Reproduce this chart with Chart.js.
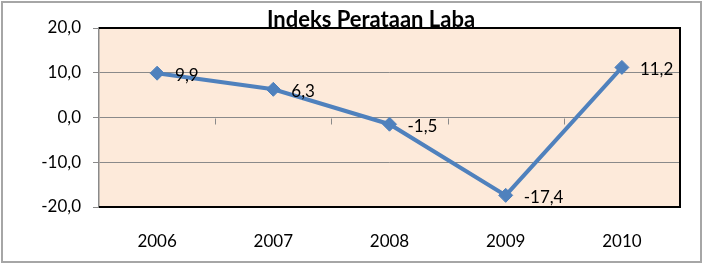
<!DOCTYPE html>
<html>
<head>
<meta charset="utf-8">
<script src="https://cdn.jsdelivr.net/npm/chart.js@4/dist/chart.umd.min.js"></script>
<style>
    html, body { margin: 0; padding: 0; background: #fff; }
    #wrap { position: absolute; left: 0; top: 0; width: 707px; height: 272px; }
</style>
</head>
<body>
<div id="wrap"><canvas id="chart" width="707" height="272"></canvas></div>
<script>
// chart data
const title = 'Indeks Perataan Laba';
const years = ['2006', '2007', '2008', '2009', '2010'];
const indeks = [9.9, 6.3, -1.5, -17.4, 11.2];
const yTicks = [20, 10, 0, -10, -20];

const FONT = 'Lato, Carlito, Calibri, sans-serif';
const fmt = v => v.toFixed(1).replace('.', ',');

// outer frame, plot border, zero-line tick marks, title and value labels
const decor = {
    id: 'decor',
    beforeDraw(chart) {
        const { ctx, chartArea: a } = chart;
        ctx.save();
        ctx.fillStyle = '#fff';
        ctx.fillRect(0, 0, chart.width, chart.height);
        ctx.fillStyle = '#FDEADA';
        ctx.fillRect(a.left, a.top, a.right - a.left, a.bottom - a.top);
        ctx.restore();
    },
    afterDatasetsDraw(chart) {
        const { ctx, scales } = chart;
        const x = scales.x, y = scales.y;
        ctx.save();
        // little tick marks on the zero line between categories
        const y0 = Math.round(y.getPixelForValue(0)) + 0.5;
        ctx.strokeStyle = '#8a8a8a';
        ctx.lineWidth = 1;
        for (let i = 1; i < years.length; i++) {
            const xb = Math.round((x.getPixelForValue(i - 1) + x.getPixelForValue(i)) / 2) + 0.5;
            ctx.beginPath();
            ctx.moveTo(xb, y0);
            ctx.lineTo(xb, y0 + 6);
            ctx.stroke();
        }
        ctx.restore();
    },
    afterDraw(chart) {
        const { ctx, chartArea: a } = chart;
        const meta = chart.getDatasetMeta(0);
        ctx.save();
        // plot border: black top/right/bottom
        const top = Math.round(a.top), right = Math.round(a.right), bottom = Math.round(a.bottom), left = Math.round(a.left);
        ctx.fillStyle = '#000';
        ctx.fillRect(left, top - 1, right - left + 1, 2);
        ctx.fillRect(right - 1, top - 1, 2, bottom - top + 2);
        ctx.fillRect(left, bottom - 1, right - left + 1, 2);

        ctx.font = '17px ' + FONT;
        ctx.textAlign = 'left';
        ctx.textBaseline = 'middle';
        meta.data.forEach((pt, i) => {
            ctx.fillText(fmt(indeks[i]), pt.x + 18, pt.y + 2);
        });
        // title
        ctx.font = 'bold 22px ' + FONT;
        ctx.textAlign = 'center';
        ctx.textBaseline = 'alphabetic';
        ctx.fillText(title, 371, 27);
        // outer frame
        ctx.strokeStyle = '#a6a6a6';
        ctx.lineWidth = 2;
        ctx.strokeRect(2, 2, 699, 260);
        ctx.restore();
    }
};

new Chart(document.getElementById('chart'), {
    type: 'line',
    data: {
        labels: years,
        datasets: [{
            data: indeks,
            borderColor: '#4F81BD',
            backgroundColor: '#4F81BD',
            borderWidth: 4,
            pointStyle: 'rectRot',
            pointRadius: 7,
            pointHoverRadius: 7,
            pointBorderWidth: 1,
            tension: 0,
            fill: false
        }]
    },
    options: {
        responsive: false,
        animation: false,
        layout: { padding: { top: 28, right: 27, left: 0, bottom: 0 } },
        plugins: { legend: { display: false }, tooltip: { enabled: false }, title: { display: false } },
        scales: {
            x: {
                offset: true,
                grid: { display: false, offset: true },
                border: { display: false },
                ticks: { color: '#000', padding: 16, font: { family: FONT, size: 17 }, maxRotation: 0 },
                afterFit(scale) { scale.height = 65; }
            },
            y: {
                min: -20,
                max: 20,
                afterBuildTicks(scale) { scale.ticks = yTicks.map(v => ({ value: v })); },
                grid: { color: '#8a8a8a', lineWidth: 1, tickLength: 6, drawTicks: true },
                border: { display: true, color: '#8a8a8a', width: 1.5 },
                ticks: { color: '#000', padding: 12, font: { family: FONT, size: 17 }, callback: v => fmt(v) },
                afterFit(scale) { scale.width = 99; }
            }
        }
    },
    plugins: [decor]
});
</script>
</body>
</html>
